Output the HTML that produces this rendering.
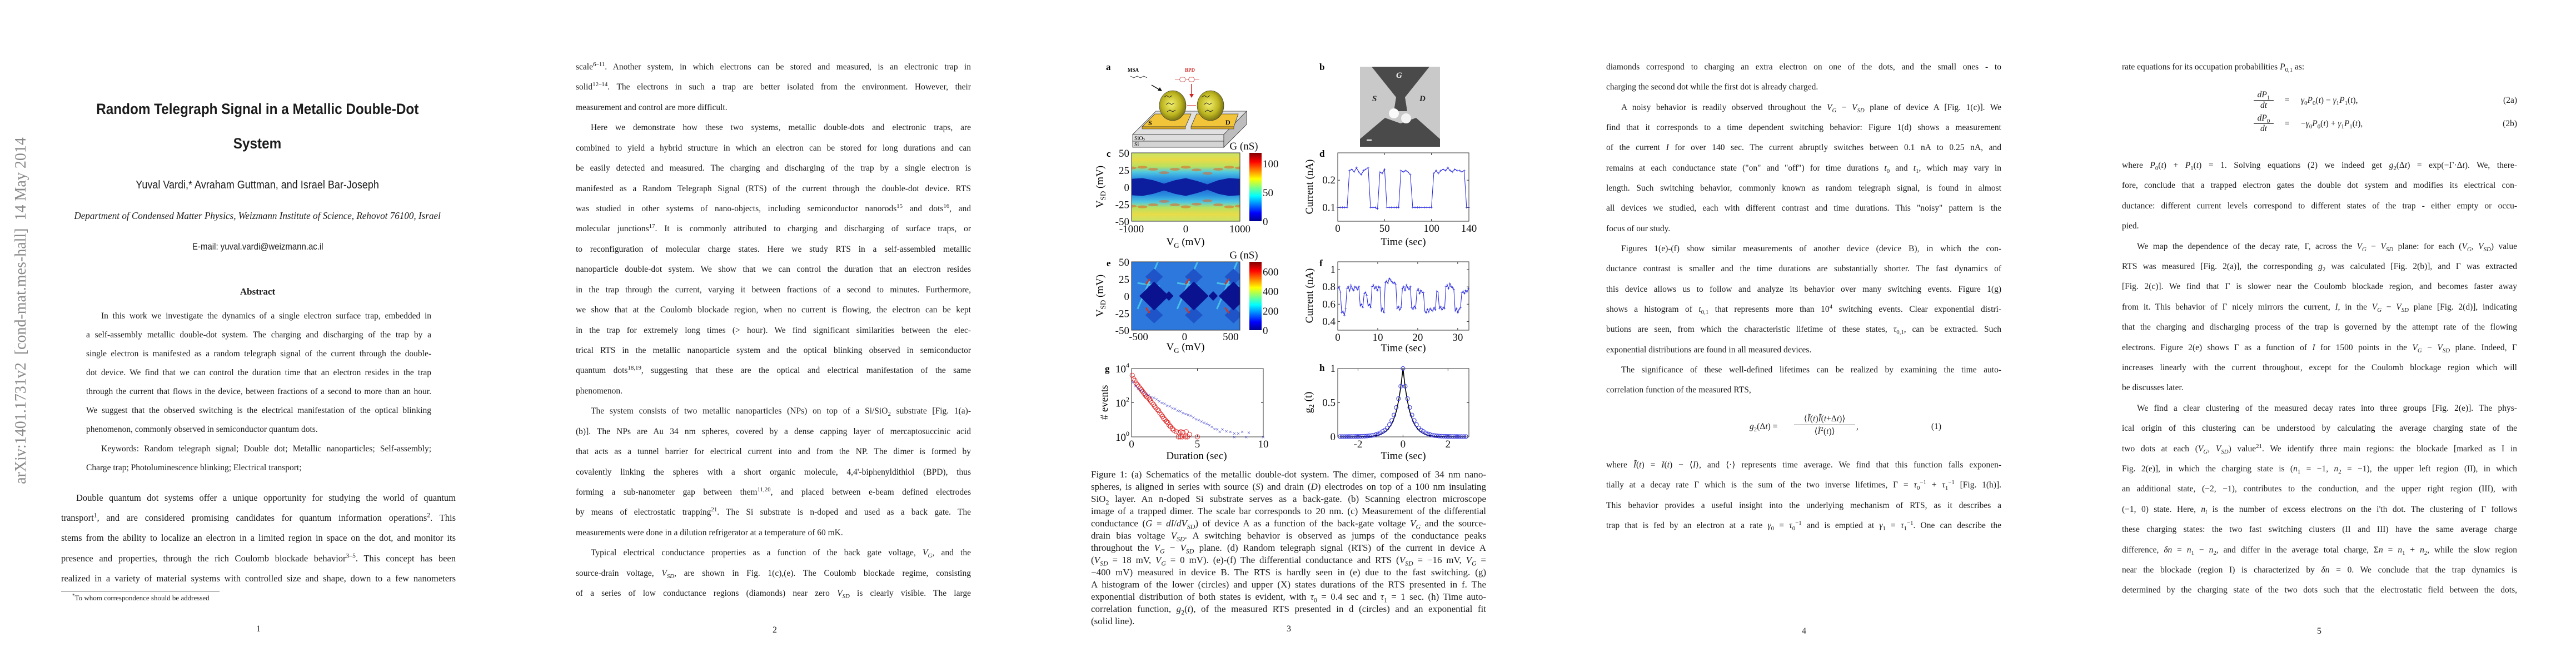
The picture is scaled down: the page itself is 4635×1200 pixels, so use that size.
<!DOCTYPE html>
<html><head><meta charset="utf-8">
<style>
html,body{margin:0;padding:0;background:#fff;}
body{width:4635px;height:1200px;position:relative;overflow:hidden;font-family:"Liberation Serif",serif;color:#1c1c1c;}
.pg{position:absolute;top:0;height:1200px;width:927px;}
.ln{position:absolute;height:20px;line-height:20px;text-align:justify;text-align-last:justify;overflow:visible;}
.ln.l{text-align-last:left;}
.p2 .ln,.p4 .ln,.p5 .ln{font-size:15.5px;width:711px;}
.p2 .ln{left:106px;} .p4 .ln{left:110px;} .p5 .ln{left:113px;}
.ind{padding-left:27px;box-sizing:border-box;}
.cap .ln{font-size:17px;left:113px;width:711px;}
.p1 .ab{font-size:15.5px;left:155px;width:621px;}
.p1 .bd{font-size:16.5px;left:110px;width:710px;}
.pn{position:absolute;font-size:16px;width:40px;text-align:center;}
sub,sup{font-size:70%;line-height:0;}
i{font-style:italic;}
.c{position:absolute;left:0;width:927px;text-align:center;white-space:nowrap;}
</style></head>
<body>

<!-- PAGE 1 -->
<div class="pg p1" style="left:0">
  <div style="position:absolute;left:38px;top:559px;width:680px;height:34px;margin-left:-340px;margin-top:-17px;transform:rotate(-90deg);font-size:28px;color:#8a8a8a;white-space:nowrap;text-align:center;line-height:34px;">arXiv:1401.1731v2&nbsp; [cond-mat.mes-hall]&nbsp; 14 May 2014</div>
  <div class="c" style="top:180px;font-family:'Liberation Sans',sans-serif;font-weight:bold;font-size:27px;line-height:32px;"><span style="display:inline-block;transform:scaleX(0.9);">Random Telegraph Signal in a Metallic Double-Dot</span></div>
  <div class="c" style="top:242px;font-family:'Liberation Sans',sans-serif;font-weight:bold;font-size:27px;line-height:32px;"><span style="display:inline-block;transform:scaleX(0.9);">System</span></div>
  <div class="c" style="top:320px;font-family:'Liberation Sans',sans-serif;font-size:20px;line-height:26px;"><span style="display:inline-block;transform:scaleX(0.9);">Yuval Vardi,* Avraham Guttman, and Israel Bar-Joseph</span></div>
  <div class="c" style="top:376px;font-style:italic;font-size:18px;line-height:24px;"><span style="display:inline-block;transform:scaleX(0.95);">Department of Condensed Matter Physics, Weizmann Institute of Science, Rehovot 76100, Israel</span></div>
  <div class="c" style="top:432px;font-family:'Liberation Sans',sans-serif;font-size:17px;line-height:24px;"><span style="display:inline-block;transform:scaleX(0.88);">E-mail: yuval.vardi@weizmann.ac.il</span></div>
  <div class="c" style="top:514px;font-weight:bold;font-size:17px;line-height:22px;">Abstract</div>
  <div class="ln ab ind" style="top:559px">In this work we investigate the dynamics of a single electron surface trap, embedded in</div>
  <div class="ln ab" style="top:593px">a self-assembly metallic double-dot system. The charging and discharging of the trap by a</div>
  <div class="ln ab" style="top:627px">single electron is manifested as a random telegraph signal of the current through the double-</div>
  <div class="ln ab" style="top:661px">dot device. We find that we can control the duration time that an electron resides in the trap</div>
  <div class="ln ab" style="top:695px">through the current that flows in the device, between fractions of a second to more than an hour.</div>
  <div class="ln ab" style="top:729px">We suggest that the observed switching is the electrical manifestation of the optical blinking</div>
  <div class="ln ab l" style="top:763px">phenomenon, commonly observed in semiconductor quantum dots.</div>
  <div class="ln ab ind" style="top:798px">Keywords: Random telegraph signal; Double dot; Metallic nanoparticles; Self-assembly;</div>
  <div class="ln ab l" style="top:832px">Charge trap; Photoluminescence blinking; Electrical transport;</div>
  <div class="ln bd ind" style="top:886px">Double quantum dot systems offer a unique opportunity for studying the world of quantum</div>
  <div class="ln bd" style="top:922px">transport<sup>1</sup>, and are considered promising candidates for quantum information operations<sup>2</sup>. This</div>
  <div class="ln bd" style="top:958px">stems from the ability to localize an electron in a limited region in space on the dot, and monitor its</div>
  <div class="ln bd" style="top:995px">presence and properties, through the rich Coulomb blockade behavior<sup>3–5</sup>. This concept has been</div>
  <div class="ln bd" style="top:1031px">realized in a variety of material systems with controlled size and shape, down to a few nanometers</div>
  <div style="position:absolute;left:110px;top:1063px;width:285px;height:1px;background:#333;"></div>
  <div style="position:absolute;left:130px;top:1067px;font-size:13px;line-height:18px;"><sup>*</sup>To whom correspondence should be addressed</div>
  <div class="pn" style="left:445px;top:1123px">1</div>
</div>

<!-- PAGE 2 -->
<div class="pg p2" style="left:930px">
  <div class="ln" style="top:111px">scale<sup>6–11</sup>. Another system, in which electrons can be stored and measured, is an electronic trap in</div>
  <div class="ln" style="top:147px">solid<sup>12–14</sup>. The electrons in such a trap are better isolated from the environment. However, their</div>
  <div class="ln l" style="top:184px">measurement and control are more difficult.</div>
  <div class="ln ind" style="top:220px">Here we demonstrate how these two systems, metallic double-dots and electronic traps, are</div>
  <div class="ln" style="top:257px">combined to yield a hybrid structure in which an electron can be stored for long durations and can</div>
  <div class="ln" style="top:293px">be easily detected and measured. The charging and discharging of the trap by a single electron is</div>
  <div class="ln" style="top:330px">manifested as a Random Telegraph Signal (RTS) of the current through the double-dot device. RTS</div>
  <div class="ln" style="top:366px">was studied in other systems of nano-objects, including semiconductor nanorods<sup>15</sup> and dots<sup>16</sup>, and</div>
  <div class="ln" style="top:402px">molecular junctions<sup>17</sup>. It is commonly attributed to charging and discharging of surface traps, or</div>
  <div class="ln" style="top:439px">to reconfiguration of molecular charge states. Here we study RTS in a self-assembled metallic</div>
  <div class="ln" style="top:475px">nanoparticle double-dot system. We show that we can control the duration that an electron resides</div>
  <div class="ln" style="top:512px">in the trap through the current, varying it between fractions of a second to minutes. Furthermore,</div>
  <div class="ln" style="top:548px">we show that at the Coulomb blockade region, when no current is flowing, the electron can be kept</div>
  <div class="ln" style="top:585px">in the trap for extremely long times (&gt; hour). We find significant similarities between the elec-</div>
  <div class="ln" style="top:621px">trical RTS in the metallic nanoparticle system and the optical blinking observed in semiconductor</div>
  <div class="ln" style="top:657px">quantum dots<sup>18,19</sup>, suggesting that these are the optical and electrical manifestation of the same</div>
  <div class="ln l" style="top:694px">phenomenon.</div>
  <div class="ln ind" style="top:730px">The system consists of two metallic nanoparticles (NPs) on top of a Si/SiO<sub>2</sub> substrate [Fig. 1(a)-</div>
  <div class="ln" style="top:767px">(b)]. The NPs are Au 34 nm spheres, covered by a dense capping layer of mercaptosuccinic acid</div>
  <div class="ln" style="top:803px">that acts as a tunnel barrier for electrical current into and from the NP. The dimer is formed by</div>
  <div class="ln" style="top:840px">covalently linking the spheres with a short organic molecule, 4,4'-biphenyldithiol (BPD), thus</div>
  <div class="ln" style="top:876px">forming a sub-nanometer gap between them<sup>11,20</sup>, and placed between e-beam defined electrodes</div>
  <div class="ln" style="top:912px">by means of electrostatic trapping<sup>21</sup>. The Si substrate is n-doped and used as a back gate. The</div>
  <div class="ln l" style="top:949px">measurements were done in a dilution refrigerator at a temperature of 60 mK.</div>
  <div class="ln ind" style="top:985px">Typical electrical conductance properties as a function of the back gate voltage, <i>V<sub>G</sub></i>, and the</div>
  <div class="ln" style="top:1022px">source-drain voltage, <i>V<sub>SD</sub></i>, are shown in Fig. 1(c),(e). The Coulomb blockade regime, consisting</div>
  <div class="ln" style="top:1058px">of a series of low conductance regions (diamonds) near zero <i>V<sub>SD</sub></i> is clearly visible. The large</div>
  <div class="pn" style="left:444px;top:1125px">2</div>
</div>

<!-- PAGE 3 -->
<div class="pg cap" style="left:1850px">
  <div class="ln" style="top:844px">Figure 1: (a) Schematics of the metallic double-dot system. The dimer, composed of 34 nm nano-</div>
  <div class="ln" style="top:866px">spheres, is aligned in series with source (<i>S</i>) and drain (<i>D</i>) electrodes on top of a 100 nm insulating</div>
  <div class="ln" style="top:888px">SiO<sub>2</sub> layer. An n-doped Si substrate serves as a back-gate. (b) Scanning electron microscope</div>
  <div class="ln" style="top:910px">image of a trapped dimer. The scale bar corresponds to 20 nm. (c) Measurement of the differential</div>
  <div class="ln" style="top:932px">conductance (<i>G</i> = <i>dI</i>/<i>dV<sub>SD</sub></i>) of device A as a function of the back-gate voltage <i>V<sub>G</sub></i> and the source-</div>
  <div class="ln" style="top:954px">drain bias voltage <i>V<sub>SD</sub></i>. A switching behavior is observed as jumps of the conductance peaks</div>
  <div class="ln" style="top:976px">throughout the <i>V<sub>G</sub></i> − <i>V<sub>SD</sub></i> plane. (d) Random telegraph signal (RTS) of the current in device A</div>
  <div class="ln" style="top:998px">(<i>V<sub>SD</sub></i> = 18 mV, <i>V<sub>G</sub></i> = 0 mV). (e)-(f) The differential conductance and RTS (<i>V<sub>SD</sub></i> = −16 mV, <i>V<sub>G</sub></i> =</div>
  <div class="ln" style="top:1020px">−400 mV) measured in device B. The RTS is hardly seen in (e) due to the fast switching. (g)</div>
  <div class="ln" style="top:1042px">A histogram of the lower (circles) and upper (X) states durations of the RTS presented in f. The</div>
  <div class="ln" style="top:1064px">exponential distribution of both states is evident, with <i>τ</i><sub>0</sub> = 0.4 sec and <i>τ</i><sub>1</sub> = 1 sec. (h) Time auto-</div>
  <div class="ln" style="top:1086px">correlation function, <i>g</i><sub>2</sub>(<i>t</i>), of the measured RTS presented in d (circles) and an exponential fit</div>
  <div class="ln l" style="top:1108px">(solid line).</div>
  <div class="pn" style="left:449px;top:1123px">3</div>
</div>

<!-- PAGE 4 -->
<div class="pg p4" style="left:2780px">
  <div class="ln" style="top:111px">diamonds correspond to charging an extra electron on one of the dots, and the small ones - to</div>
  <div class="ln l" style="top:147px">charging the second dot while the first dot is already charged.</div>
  <div class="ln ind" style="top:184px">A noisy behavior is readily observed throughout the <i>V<sub>G</sub></i> − <i>V<sub>SD</sub></i> plane of device A [Fig. 1(c)]. We</div>
  <div class="ln" style="top:220px">find that it corresponds to a time dependent switching behavior: Figure 1(d) shows a measurement</div>
  <div class="ln" style="top:256px">of the current <i>I</i> for over 140 sec. The current abruptly switches between 0.1 nA to 0.25 nA, and</div>
  <div class="ln" style="top:293px">remains at each conductance state ("on" and "off") for time durations <i>t</i><sub>0</sub> and <i>t</i><sub>1</sub>, which may vary in</div>
  <div class="ln" style="top:329px">length. Such switching behavior, commonly known as random telegraph signal, is found in almost</div>
  <div class="ln" style="top:365px">all devices we studied, each with different contrast and time durations. This "noisy" pattern is the</div>
  <div class="ln l" style="top:402px">focus of our study.</div>
  <div class="ln ind" style="top:438px">Figures 1(e)-(f) show similar measurements of another device (device B), in which the con-</div>
  <div class="ln" style="top:474px">ductance contrast is smaller and the time durations are substantially shorter. The fast dynamics of</div>
  <div class="ln" style="top:511px">this device allows us to follow and analyze its behavior over many switching events. Figure 1(g)</div>
  <div class="ln" style="top:547px">shows a histogram of <i>t</i><sub>0,1</sub> that represents more than 10<sup>4</sup> switching events. Clear exponential distri-</div>
  <div class="ln" style="top:583px">butions are seen, from which the characteristic lifetime of these states, <i>τ</i><sub>0,1</sub>, can be extracted. Such</div>
  <div class="ln l" style="top:620px">exponential distributions are found in all measured devices.</div>
  <div class="ln ind" style="top:656px">The significance of these well-defined lifetimes can be realized by examining the time auto-</div>
  <div class="ln l" style="top:692px">correlation function of the measured RTS,</div>
  <div style="position:absolute;left:368px;top:744px;width:345px;height:50px;font-size:15.5px;">
    <span style="position:absolute;left:0;top:15px;"><i>g</i><sub>2</sub>(Δ<i>t</i>) =</span>
    <span style="position:absolute;left:80px;top:0;width:110px;text-align:center;border-bottom:1px solid #222;line-height:20px;">⟨<i>Ĩ</i>(<i>t</i>)<i>Ĩ</i>(<i>t</i>+Δ<i>t</i>)⟩</span>
    <span style="position:absolute;left:80px;top:23px;width:110px;text-align:center;line-height:20px;">⟨<i>Ĩ</i><sup>2</sup>(<i>t</i>)⟩</span>
    <span style="position:absolute;left:192px;top:15px;">,</span>
    <span style="position:absolute;right:0;top:15px;">(1)</span>
  </div>
  <div class="ln" style="top:827px">where <i>Ĩ</i>(<i>t</i>) = <i>I</i>(<i>t</i>) − ⟨<i>I</i>⟩, and ⟨·⟩ represents time average. We find that this function falls exponen-</div>
  <div class="ln" style="top:863px">tially at a decay rate Γ which is the sum of the two inverse lifetimes, Γ = <i>τ</i><sub>0</sub><sup>−1</sup> + <i>τ</i><sub>1</sub><sup>−1</sup> [Fig. 1(h)].</div>
  <div class="ln" style="top:900px">This behavior provides a useful insight into the underlying mechanism of RTS, as it describes a</div>
  <div class="ln" style="top:936px">trap that is fed by an electron at a rate <i>γ</i><sub>0</sub> = <i>τ</i><sub>0</sub><sup>−1</sup> and is emptied at <i>γ</i><sub>1</sub> = <i>τ</i><sub>1</sub><sup>−1</sup>. One can describe the</div>
  <div class="pn" style="left:446px;top:1127px">4</div>
</div>

<!-- PAGE 5 -->
<div class="pg p5" style="left:3705px">
  <div class="ln l" style="top:111px">rate equations for its occupation probabilities <i>P</i><sub>0,1</sub> as:</div>
  <div style="position:absolute;left:350px;top:162px;width:474px;height:90px;font-size:15.5px;line-height:18px;">
    <span style="position:absolute;left:0;top:0;width:36px;text-align:center;border-bottom:1px solid #222;"><i>dP</i><sub>1</sub></span>
    <span style="position:absolute;left:0;top:19px;width:36px;text-align:center;"><i>dt</i></span>
    <span style="position:absolute;left:56px;top:10px;">=</span>
    <span style="position:absolute;left:85px;top:10px;"><i>γ</i><sub>0</sub><i>P</i><sub>0</sub>(<i>t</i>) − <i>γ</i><sub>1</sub><i>P</i><sub>1</sub>(<i>t</i>),</span>
    <span style="position:absolute;right:0;top:10px;">(2a)</span>
    <span style="position:absolute;left:0;top:42px;width:36px;text-align:center;border-bottom:1px solid #222;"><i>dP</i><sub>0</sub></span>
    <span style="position:absolute;left:0;top:61px;width:36px;text-align:center;"><i>dt</i></span>
    <span style="position:absolute;left:56px;top:52px;">=</span>
    <span style="position:absolute;left:85px;top:52px;">−<i>γ</i><sub>0</sub><i>P</i><sub>0</sub>(<i>t</i>) + <i>γ</i><sub>1</sub><i>P</i><sub>1</sub>(<i>t</i>),</span>
    <span style="position:absolute;right:0;top:52px;">(2b)</span>
  </div>
  <div class="ln" style="top:288px">where <i>P</i><sub>0</sub>(<i>t</i>) + <i>P</i><sub>1</sub>(<i>t</i>) = 1. Solving equations (2) we indeed get <i>g</i><sub>2</sub>(Δ<i>t</i>) = exp(−Γ·Δ<i>t</i>). We, there-</div>
  <div class="ln" style="top:324px">fore, conclude that a trapped electron gates the double dot system and modifies its electrical con-</div>
  <div class="ln" style="top:361px">ductance: different current levels correspond to different states of the trap - either empty or occu-</div>
  <div class="ln l" style="top:397px">pied.</div>
  <div class="ln ind" style="top:434px">We map the dependence of the decay rate, Γ, across the <i>V<sub>G</sub></i> − <i>V<sub>SD</sub></i> plane: for each (<i>V<sub>G</sub></i>, <i>V<sub>SD</sub></i>) value</div>
  <div class="ln" style="top:470px">RTS was measured [Fig. 2(a)], the corresponding <i>g</i><sub>2</sub> was calculated [Fig. 2(b)], and Γ was extracted</div>
  <div class="ln" style="top:506px">[Fig. 2(c)]. We find that Γ is slower near the Coulomb blockade region, and becomes faster away</div>
  <div class="ln" style="top:543px">from it. This behavior of Γ nicely mirrors the current, <i>I</i>, in the <i>V<sub>G</sub></i> − <i>V<sub>SD</sub></i> plane [Fig. 2(d)], indicating</div>
  <div class="ln" style="top:579px">that the charging and discharging process of the trap is governed by the attempt rate of the flowing</div>
  <div class="ln" style="top:616px">electrons. Figure 2(e) shows Γ as a function of <i>I</i> for 1500 points in the <i>V<sub>G</sub></i> − <i>V<sub>SD</sub></i> plane. Indeed, Γ</div>
  <div class="ln" style="top:652px">increases linearly with the current throughout, except for the Coulomb blockage region which will</div>
  <div class="ln l" style="top:688px">be discusses later.</div>
  <div class="ln ind" style="top:725px">We find a clear clustering of the measured decay rates into three groups [Fig. 2(e)]. The phys-</div>
  <div class="ln" style="top:761px">ical origin of this clustering can be understood by calculating the average charging state of the</div>
  <div class="ln" style="top:798px">two dots at each (<i>V<sub>G</sub></i>, <i>V<sub>SD</sub></i>) value<sup>21</sup>. We identify three main regions: the blockade [marked as I in</div>
  <div class="ln" style="top:834px">Fig. 2(e)], in which the charging state is (<i>n</i><sub>1</sub> = −1, <i>n</i><sub>2</sub> = −1), the upper left region (II), in which</div>
  <div class="ln" style="top:870px">an additional state, (−2, −1), contributes to the conduction, and the upper right region (III), with</div>
  <div class="ln" style="top:907px">(−1, 0) state. Here, <i>n<sub>i</sub></i> is the number of excess electrons on the i'th dot. The clustering of Γ follows</div>
  <div class="ln" style="top:943px">these charging states: the two fast switching clusters (II and III) have the same average charge</div>
  <div class="ln" style="top:980px">difference, <i>δn</i> = <i>n</i><sub>1</sub> − <i>n</i><sub>2</sub>, and differ in the average total charge, Σ<i>n</i> = <i>n</i><sub>1</sub> + <i>n</i><sub>2</sub>, while the slow region</div>
  <div class="ln" style="top:1016px">near the blockade (region I) is characterized by <i>δn</i> = 0. We conclude that the trap dynamics is</div>
  <div class="ln" style="top:1052px">determined by the charging state of the two dots such that the electrostatic field between the dots,</div>
  <div class="pn" style="left:448px;top:1127px">5</div>
</div>

<!-- FIGURE (absolute coords) -->
<svg id="fig" xmlns="http://www.w3.org/2000/svg" width="4635" height="1200" viewBox="0 0 4635 1200" style="position:absolute;left:0;top:0;" font-family="Liberation Serif, serif">
  <defs>
    <linearGradient id="jet" x1="0" y1="1" x2="0" y2="0">
      <stop offset="0" stop-color="#00008f"/><stop offset="0.12" stop-color="#0000ff"/>
      <stop offset="0.37" stop-color="#00ffff"/><stop offset="0.62" stop-color="#ffff00"/>
      <stop offset="0.87" stop-color="#ff0000"/><stop offset="1" stop-color="#800000"/>
    </linearGradient>
    <linearGradient id="cbg" x1="0" y1="0" x2="0" y2="1">
      <stop offset="0" stop-color="#c8e468"/><stop offset="0.1" stop-color="#e8dc48"/>
      <stop offset="0.2" stop-color="#b8e060"/><stop offset="0.28" stop-color="#50c8e0"/>
      <stop offset="0.38" stop-color="#2a8ee0"/><stop offset="0.5" stop-color="#1e62d0"/>
      <stop offset="0.62" stop-color="#2a8ee0"/><stop offset="0.72" stop-color="#50c8e0"/>
      <stop offset="0.8" stop-color="#b8e060"/><stop offset="0.9" stop-color="#e8dc48"/>
      <stop offset="1" stop-color="#c8e468"/>
    </linearGradient>
    <radialGradient id="gold" cx="0.45" cy="0.45" r="0.6">
      <stop offset="0" stop-color="#f4f070"/><stop offset="0.6" stop-color="#bdb520"/><stop offset="1" stop-color="#6a6410"/>
    </radialGradient>
    <clipPath id="clipC"><rect x="2036" y="275" width="195" height="123"/></clipPath>
    <clipPath id="clipE"><rect x="2036" y="471" width="195" height="123"/></clipPath>
  </defs>
  <g>
    <text x="1990" y="126" font-weight="bold" font-size="17">a</text>
    <polygon points="2038,242 2202,242 2243,200 2080,200" fill="#e0e0e0" stroke="#333" stroke-width="0.8"/>
    <rect x="2038" y="242" width="164" height="12" fill="#dedede" stroke="#333" stroke-width="0.8"/>
    <rect x="2038" y="254" width="164" height="11" fill="#d4d4d4" stroke="#333" stroke-width="0.8"/>
    <polygon points="2202,242 2243,200 2243,224 2202,265" fill="#bdbdbd" stroke="#333" stroke-width="0.8"/>
    <text x="2041" y="252" font-size="10">SiO<tspan font-size="7" dy="2">2</tspan></text>
    <text x="2041" y="263" font-size="10">Si</text>
    <polygon points="2055,228 2133,228 2143,205 2078,205" fill="#f2c43a" stroke="#333" stroke-width="0.8"/>
    <rect x="2055" y="228" width="78" height="4" fill="#d9a620" stroke="#333" stroke-width="0.6"/>
    <polygon points="2143,228 2220,228 2228,205 2153,205" fill="#f2c43a" stroke="#333" stroke-width="0.8"/>
    <rect x="2143" y="228" width="77" height="4" fill="#d9a620" stroke="#333" stroke-width="0.6"/>
    <text x="2066" y="225" font-weight="bold" font-size="12">S</text>
    <text x="2205" y="224" font-weight="bold" font-size="12">D</text>
    <ellipse cx="2110" cy="190" rx="24" ry="27" fill="url(#gold)" stroke="#333" stroke-width="0.6"/>
    <ellipse cx="2178" cy="190" rx="24" ry="27" fill="url(#gold)" stroke="#333" stroke-width="0.6"/>
    <path d="M2094,175 l5,-3 l5,3 l5,-3 M2098,188 l5,-3 l5,3 l5,-3 M2100,201 l5,-3 l5,3 l5,-3 M2162,175 l5,-3 l5,3 l5,-3 M2166,188 l5,-3 l5,3 l5,-3 M2168,201 l5,-3 l5,3 l5,-3" stroke="#222" fill="none" stroke-width="1"/>
    <path d="M2136,190 h16" stroke="#d04040" stroke-width="1.2"/>
    <text x="2029" y="129" font-weight="bold" font-size="9">MSA</text>
    <path d="M2034,137 l6,3 l6,-3 l6,3 l6,-3 l6,3" stroke="#222" fill="none" stroke-width="0.8"/>
    <path d="M2072,153 L2089,163" stroke="#111" stroke-width="1.4"/>
    <polygon points="2091,164 2083,163 2087,157" fill="#111"/>
    <text x="2132" y="129" font-weight="bold" font-size="9" fill="#d03030">BPD</text>
    <path d="M2114,143 h8 l3,-4 h6 l3,4 l-3,4 h-6 l-3,-4 M2134,143 h4 l3,-4 h6 l3,4 l-3,4 h-6 l-3,-4 M2150,143 h8" stroke="#d05050" fill="none" stroke-width="0.8"/>
    <path d="M2144,151 V170" stroke="#d02020" stroke-width="1.4"/>
    <polygon points="2140,169 2148,169 2144,176" fill="#d02020"/>
  </g>
  <g>
    <text x="2374" y="126" font-weight="bold" font-size="17">b</text>
    <rect x="2447" y="120" width="144" height="144" fill="#c9c9c9"/>
    <polygon points="2468,120 2572,120 2528,175 2532,200 2508,200 2512,175" fill="#4a4a4a"/>
    <polygon points="2447,264 2447,250 2492,212 2520,222 2548,212 2591,250 2591,264" fill="#4a4a4a"/>
    <circle cx="2508" cy="204" r="9" fill="#fafafa"/>
    <circle cx="2530" cy="213" r="9" fill="#f4f4f4"/>
    <text x="2512" y="140" font-style="italic" font-weight="bold" font-size="15" fill="#eee">G</text>
    <text x="2469" y="182" font-style="italic" font-weight="bold" font-size="15" fill="#222">S</text>
    <text x="2554" y="182" font-style="italic" font-weight="bold" font-size="15" fill="#222">D</text>
    <rect x="2459" y="251" width="9" height="2" fill="#fff"/>
  </g>
  <g id="charts"></g>
</svg>

<script>
// ---------- data ----------
const cVg = [-1000,-800,-600,-400,-200,0,200,400,600,800,1000];
const cHalf = [12,13,10,5,10,13,9,4,10,13,12];
const eCenters = [-330,100,530];
const eHalfW = [160,160,160];
const eHalfH = [21,21,21];
const eSmallCenters = [-170,310];
const dTime = [0,2.5,5,7.5,10,12.5,15,17.5,20,22.5,25,27.5,30,32.5,35,37.5,40,42.5,45,47.5,50,52.5,55,57.5,60,62.5,65,67.5,70,72.5,75,77.5,80,82.5,85,87.5,90,92.5,95,97.5,100,102.5,105,107.5,110,112.5,115,117.5,120,122.5,125,127.5,130,132.5,135,137.5,140];
const dCurrent = [0.1,0.1,0.1,0.1,0.1,0.235,0.24,0.23,0.245,0.23,0.22,0.235,0.24,0.245,0.1,0.1,0.1,0.095,0.23,0.225,0.24,0.1,0.1,0.1,0.1,0.1,0.1,0.235,0.23,0.235,0.23,0.22,0.1,0.1,0.1,0.1,0.1,0.1,0.1,0.1,0.1,0.225,0.235,0.225,0.235,0.24,0.235,0.245,0.235,0.23,0.24,0.235,0.235,0.23,0.235,0.1,0.1];
const fCurrent = [0.78,0.8,0.74,0.5,0.52,0.47,0.55,0.78,0.8,0.75,0.82,0.78,0.76,0.8,0.79,0.77,0.8,0.58,0.6,0.56,0.72,0.74,0.7,0.58,0.6,0.56,0.8,0.82,0.78,0.8,0.76,0.8,0.79,0.52,0.55,0.5,0.85,0.87,0.84,0.9,0.88,0.86,0.84,0.85,0.83,0.55,0.57,0.53,0.56,0.78,0.8,0.76,0.82,0.79,0.77,0.8,0.56,0.54,0.58,0.55,0.75,0.78,0.72,0.76,0.74,0.73,0.52,0.5,0.54,0.51,0.55,0.53,0.52,0.56,0.53,0.75,0.74,0.55,0.57,0.53,0.56,0.55,0.8,0.82,0.78,0.84,0.8,0.79,0.77,0.52,0.55,0.5,0.54,0.56,0.73,0.75,0.72,0.76,0.74,0.78];
const fStep = 0.33;
const gLowDur = [0.05,0.15,0.25,0.35,0.45,0.55,0.65,0.75,0.85,0.95,1.05,1.15,1.25,1.35,1.45,1.55,1.65,1.75,1.85,1.95,2.05,2.15,2.25,2.35,2.45,2.55,2.65,2.75,2.85,2.95,3.1,3.2,3.4,3.6,3.75,3.9,4.15,4.4,3.55,3.7,3.85,4.1,4.25,5.0];
const gLowCount = [4000,2500,2000,1400,1100,900,700,560,450,350,280,220,200,160,125,100,80,63,50,40,35,25,20,16,12,10,8,7,5,4,3,2.5,2,1.8,2,1.8,2,1.4,1,1,1,1,1,1];
const gUpDur = [0.1,0.3,0.5,0.7,0.9,1.1,1.3,1.5,1.7,1.9,2.1,2.3,2.5,2.7,2.9,3.1,3.3,3.5,3.7,3.9,4.1,4.3,4.5,4.7,4.9,5.1,5.3,5.5,5.7,5.9,6.1,6.3,6.5,6.7,6.9,7.2,7.5,7.8,8.1,8.4,8.9,7.8,8.7,10];
const gUpCount = [1600,1000,700,560,450,350,280,220,200,160,125,100,90,70,63,50,45,35,32,25,22,20,18,14,11,10,8,7,6,5,4,3,2.8,2,2.8,2.2,2,1.6,1.6,2,1.8,1,1,1];
const hTime = [-2.8,-2.7,-2.6,-2.5,-2.4,-2.3,-2.2,-2.1,-2.0,-1.9,-1.8,-1.7,-1.6,-1.5,-1.4,-1.3,-1.2,-1.1,-1.0,-0.9,-0.8,-0.7,-0.6,-0.5,-0.4,-0.3,-0.2,-0.1,0,0.1,0.2,0.3,0.4,0.5,0.6,0.7,0.8,0.9,1.0,1.1,1.2,1.3,1.4,1.5,1.6,1.7,1.8,1.9,2.0,2.1,2.2,2.3,2.4,2.5,2.6,2.7,2.8];
const hG2 = [0.005,0.005,0.005,0.005,0.006,0.006,0.006,0.007,0.007,0.008,0.009,0.01,0.012,0.015,0.02,0.025,0.035,0.045,0.06,0.08,0.1,0.13,0.18,0.24,0.32,0.43,0.56,0.74,1,0.74,0.56,0.43,0.32,0.24,0.18,0.13,0.1,0.08,0.06,0.045,0.035,0.025,0.02,0.015,0.012,0.01,0.009,0.008,0.007,0.007,0.006,0.006,0.006,0.005,0.005,0.005,0.005];
const hFit = [0.0,0.0,0.0,0.0,0.0,0.001,0.001,0.001,0.001,0.002,0.003,0.004,0.005,0.007,0.01,0.014,0.02,0.027,0.037,0.05,0.07,0.1,0.14,0.19,0.27,0.37,0.52,0.72,1,0.72,0.52,0.37,0.27,0.19,0.14,0.1,0.07,0.05,0.037,0.027,0.02,0.014,0.01,0.007,0.005,0.004,0.003,0.002,0.001,0.001,0.001,0.001,0.0,0.0,0.0,0.0,0.0];
const cXTicks = [-1000,0,1000];
const cYTicks = [50,25,0,-25,-50];
const cBarTicks = [0,50,100];
const eXTicks = [-500,0,500];
const eBarTicks = [0,200,400,600];
const dXTicks = [0,50,100,140];
const dYTicks = [0.1,0.2];
const fXTicks = [0,10,20,30];
const fYTicks = [0.4,0.6,0.8,1];
const gXTicks = [0,5,10];
const gYExp = [0,2,4];
const hXTicks = [-2,0,2];
const hYTicks = [0,0.5,1];

const NS = 'http://www.w3.org/2000/svg';
const root = document.getElementById('charts');
function mk(tag, attrs, parent){
  const e = document.createElementNS(NS, tag);
  for (const k in attrs) e.setAttribute(k, attrs[k]);
  (parent || root).appendChild(e);
  return e;
}
function lin(d0,d1,r0,r1){ return v => r0 + (v-d0)*(r1-r0)/(d1-d0); }
function label(x,y,s,anchor,size,parent){
  const t = mk('text',{x:x,y:y,'text-anchor':anchor||'middle','font-size':size||19,fill:'#111'},parent);
  t.textContent = s;
  return t;
}
function frame(x0,y0,x1,y1,g){
  mk('rect',{x:x0,y:y0,width:x1-x0,height:y1-y0,fill:'none',stroke:'#333','stroke-width':1},g);
}
function xticks(vals,sx,y0,y1,g,fmt){
  vals.forEach(v=>{
    const x = sx(v);
    mk('line',{x1:x,x2:x,y1:y1,y2:y1-4,stroke:'#333'},g);
    mk('line',{x1:x,x2:x,y1:y0,y2:y0+4,stroke:'#333'},g);
    const t = label(x,y1+19,fmt?fmt(v):String(v),'middle',19,g);
    
    
  });
}
function yticks(vals,sy,x0,x1,g,fmt){
  vals.forEach(v=>{
    const y = sy(v);
    mk('line',{x1:x0,x2:x0+4,y1:y,y2:y,stroke:'#333'},g);
    mk('line',{x1:x1,x2:x1-4,y1:y,y2:y,stroke:'#333'},g);
    const t = label(x0-4,y+6,fmt?fmt(v):String(v),'end',19,g);
    
    
  });
}
function ylab(x,y,s,g){
  const t = mk('text',{x:0,y:0,'text-anchor':'middle','font-size':19,transform:`translate(${x},${y}) rotate(-90)`},g);
  t.innerHTML = s;
  
  
}
function xlab(x,y,s,g){
  const t = mk('text',{x:x,y:y,'text-anchor':'middle','font-size':19},g);
  t.innerHTML = s;
  
  
}
function colorbar(x,y0,y1,max,ticks,g){
  mk('rect',{x:x,y:y0,width:22,height:y1-y0,fill:'url(#jet)'},g);
  const sy = lin(0,max,y1,y0);
  ticks.forEach(v=>{
    const t = label(x+24,sy(v)+7,String(v),'start',19,g);
    
    
  });
  const tt = label(x-10,y0-6,'G (nS)','middle',19,g);
  
  
}
function panelLetter(x,y,s,g){
  const t = mk('text',{x:x,y:y,'font-size':17,'font-weight':'bold'},g);
  t.textContent = s;
  
  
}

// (c)
(function(){
  const g = mk('g',{});
  
  
  const X0=2036,X1=2231,Y0=275,Y1=398;
  const sx = lin(-1000,1000,X0,X1), sy = lin(-50,50,Y1,Y0);
  const inner = mk('g',{'clip-path':'url(#clipC)'},g);
  mk('rect',{x:X0,y:Y0,width:X1-X0,height:Y1-Y0,fill:'url(#cbg)'},inner);
  let top = cVg.map((v,i)=>`${sx(v).toFixed(1)},${sy(cHalf[i]).toFixed(1)}`);
  let bot = cVg.map((v,i)=>`${sx(v).toFixed(1)},${sy(-cHalf[i]).toFixed(1)}`).reverse();
  const band = mk('polygon',{points:top.concat(bot).join(' '),fill:'#0c1e9e'},inner);
  
  
  cVg.forEach((v,i)=>{
    [1,-1].forEach(s=>{
      const pk = mk('ellipse',{cx:sx(v),cy:sy(s*(cHalf[i]+16)),rx:9,ry:2.5,fill:'#e86020',opacity:0.55},inner);
      
      
    });
  });
  frame(X0,Y0,X1,Y1,g);
  cYTicks.forEach(v=>{
    const t = label(X0-4,sy(v)+7,String(v),'end',19,g);
    
    
  });
  cXTicks.forEach(v=>{
    const t = label(sx(v),Y1+20,String(v),'middle',19,g);
    
    
  });
  ylab(1985,336,'V<tspan font-size="13" dy="4">SD</tspan><tspan dy="-4"> (mV)</tspan>',g);
  xlab(2133,441,'V<tspan font-size="13" dy="5">G</tspan><tspan dy="-5"> (mV)</tspan>',g);
  colorbar(2248,275,398,118,cBarTicks,g);
  panelLetter(1991,282,'c',g);
})();

// (e)
(function(){
  const g = mk('g',{});
  
  
  const X0=2036,X1=2231,Y0=471,Y1=594;
  const sx = lin(-575,600,X0,X1), sy = lin(-50,50,Y1,Y0);
  const inner = mk('g',{'clip-path':'url(#clipE)'},g);
  mk('rect',{x:X0,y:Y0,width:X1-X0,height:Y1-Y0,fill:'#2c78dc'},inner);
  eCenters.forEach((c,i)=>{
    [-1,1].forEach(s=>{
      const st = mk('line',{x1:sx(c-180),y1:sy(s*eHalfH[i]-30*s+ (s>0?-10:10)),x2:sx(c+60),y2:sy(s*eHalfH[i]+35),stroke:'#50d0ec','stroke-width':3,opacity:0.8},inner);
      
      
    });
    const up = mk('polygon',{points:[[c-eHalfW[i]*0.6,28],[c,40],[c+eHalfW[i]*0.6,28],[c,16]].map(p=>`${sx(p[0])},${sy(p[1])}`).join(' '),fill:'#1e54c8'},inner);
    
    
    const lo = mk('polygon',{points:[[c-eHalfW[i]*0.6,-28],[c,-16],[c+eHalfW[i]*0.6,-28],[c,-40]].map(p=>`${sx(p[0])},${sy(p[1])}`).join(' '),fill:'#1e54c8'},inner);
    
    
    const d = mk('polygon',{points:[[c-eHalfW[i],0],[c,eHalfH[i]],[c+eHalfW[i],0],[c,-eHalfH[i]]].map(p=>`${sx(p[0])},${sy(p[1])}`).join(' '),fill:'#0a1290'},inner);
    
    
    [1,-1].forEach(s=>{
      const r = mk('line',{x1:sx(c-90),y1:sy(s*17),x2:sx(c-50),y2:sy(s*25),stroke:'#e03010','stroke-width':2.5},inner);
      
      
    });
  });
  eSmallCenters.forEach(c=>{
    const d = mk('polygon',{points:[[c-50,0],[c,7],[c+50,0],[c,-7]].map(p=>`${sx(p[0])},${sy(p[1])}`).join(' '),fill:'#0a1290'},inner);
    
    
  });
  frame(X0,Y0,X1,Y1,g);
  cYTicks.forEach(v=>{
    const t = label(X0-4,sy(v)+7,String(v),'end',19,g);
    
    
  });
  eXTicks.forEach(v=>{
    const t = label(sx(v),Y1+18,String(v),'middle',19,g);
    
    
  });
  ylab(1985,532,'V<tspan font-size="13" dy="4">SD</tspan><tspan dy="-4"> (mV)</tspan>',g);
  xlab(2133,630,'V<tspan font-size="13" dy="5">G</tspan><tspan dy="-5"> (mV)</tspan>',g);
  colorbar(2248,471,594,700,eBarTicks,g);
  panelLetter(1991,479,'e',g);
})();

// (d)
(function(){
  const g = mk('g',{});
  
  
  const X0=2407,X1=2643,Y0=275,Y1=398;
  const sx = lin(0,140,X0,X1), sy = lin(0.05,0.3,Y1,Y0);
  frame(X0,Y0,X1,Y1,g);
  const pts = dTime.map((t,i)=>`${sx(t).toFixed(1)},${sy(dCurrent[i]).toFixed(1)}`).join(' ');
  const line = mk('polyline',{points:pts,fill:'none',stroke:'#2020e0','stroke-width':1},g);
  
  
  dTime.forEach((t,i)=>{
    const m = mk('text',{x:sx(t),y:sy(dCurrent[i])+3,'font-size':9,'text-anchor':'middle',fill:'#2020e0'},g);
    m.textContent = '+';
    
    
  });
  xticks(dXTicks,sx,Y0,Y1,g);
  yticks(dYTicks,sy,X0,X1,g);
  ylab(2362,336,'Current (nA)',g);
  xlab(2525,441,'Time (sec)',g);
  panelLetter(2374,282,'d',g);
})();

// (f)
(function(){
  const g = mk('g',{});
  
  
  const X0=2407,X1=2643,Y0=471,Y1=594;
  const sx = lin(0,32.8,X0,X1), sy = lin(0.3,1.09,Y1,Y0);
  frame(X0,Y0,X1,Y1,g);
  const pts = fCurrent.map((v,i)=>`${sx(i*fStep).toFixed(1)},${sy(v).toFixed(1)}`).join(' ');
  const line = mk('polyline',{points:pts,fill:'none',stroke:'#2020e0','stroke-width':1},g);
  
  
  fCurrent.forEach((v,i)=>{
    const m = mk('text',{x:sx(i*fStep),y:sy(v)+3,'font-size':9,'text-anchor':'middle',fill:'#2020e0'},g);
    m.textContent = '+';
    
    
  });
  xticks(fXTicks,sx,Y0,Y1,g);
  yticks(fYTicks,sy,X0,X1,g);
  ylab(2362,532,'Current (nA)',g);
  xlab(2525,632,'Time (sec)',g);
  panelLetter(2374,479,'f',g);
})();

// (g)
(function(){
  const g = mk('g',{});
  
  
  const X0=2036,X1=2273,Y0=663,Y1=786;
  const sx = lin(0,10,X0,X1), sl = lin(0,4,Y1,Y0);
  const sy = v => sl(Math.log10(v));
  frame(X0,Y0,X1,Y1,g);
  gLowDur.forEach((d,i)=>{
    const c = mk('circle',{cx:sx(d),cy:sy(gLowCount[i]),r:4,fill:'none',stroke:'#e02020','stroke-width':1},g);
    
    
  });
  gUpDur.forEach((d,i)=>{
    const m = mk('text',{x:sx(d),y:sy(gUpCount[i])+4,'font-size':11,'text-anchor':'middle',fill:'#3030d0'},g);
    m.textContent = '×';
    
    
  });
  xticks(gXTicks,sx,Y0,Y1,g);
  gYExp.forEach(e=>{
    const y = sl(e);
    mk('line',{x1:X0,x2:X0+4,y1:y,y2:y,stroke:'#333'},g);
    mk('line',{x1:X1,x2:X1-4,y1:y,y2:y,stroke:'#333'},g);
    const t = mk('text',{x:X0-4,y:y+7,'text-anchor':'end','font-size':19},g);
    t.innerHTML = `10<tspan font-size="12" dy="-9">${e}</tspan>`;
    
    
  });
  ylab(1993,724,'# events',g);
  xlab(2153,826,'Duration (sec)',g);
  panelLetter(1988,669,'g',g);
})();

// (h)
(function(){
  const g = mk('g',{});
  
  
  const X0=2407,X1=2643,Y0=663,Y1=786;
  const sx = lin(-2.9,2.93,X0,X1), sy = lin(0,1,Y1,Y0);
  frame(X0,Y0,X1,Y1,g);
  const fit = mk('polyline',{points:hTime.map((t,i)=>`${sx(t).toFixed(1)},${sy(hFit[i]).toFixed(1)}`).join(' '),fill:'none',stroke:'#000','stroke-width':1.6},g);
  
  
  hTime.forEach((t,i)=>{
    const c = mk('circle',{cx:sx(t),cy:sy(hG2[i]),r:3.5,fill:'none',stroke:'#3030e0','stroke-width':1},g);
    
    
  });
  xticks(hXTicks,sx,Y0,Y1,g);
  yticks(hYTicks,sy,X0,X1,g);
  ylab(2360,724,'g<tspan font-size="13" dy="4">2</tspan><tspan dy="-4"> (t)</tspan>',g);
  xlab(2525,826,'Time (sec)',g);
  panelLetter(2374,667,'h',g);
})();
</script>
</body></html>
